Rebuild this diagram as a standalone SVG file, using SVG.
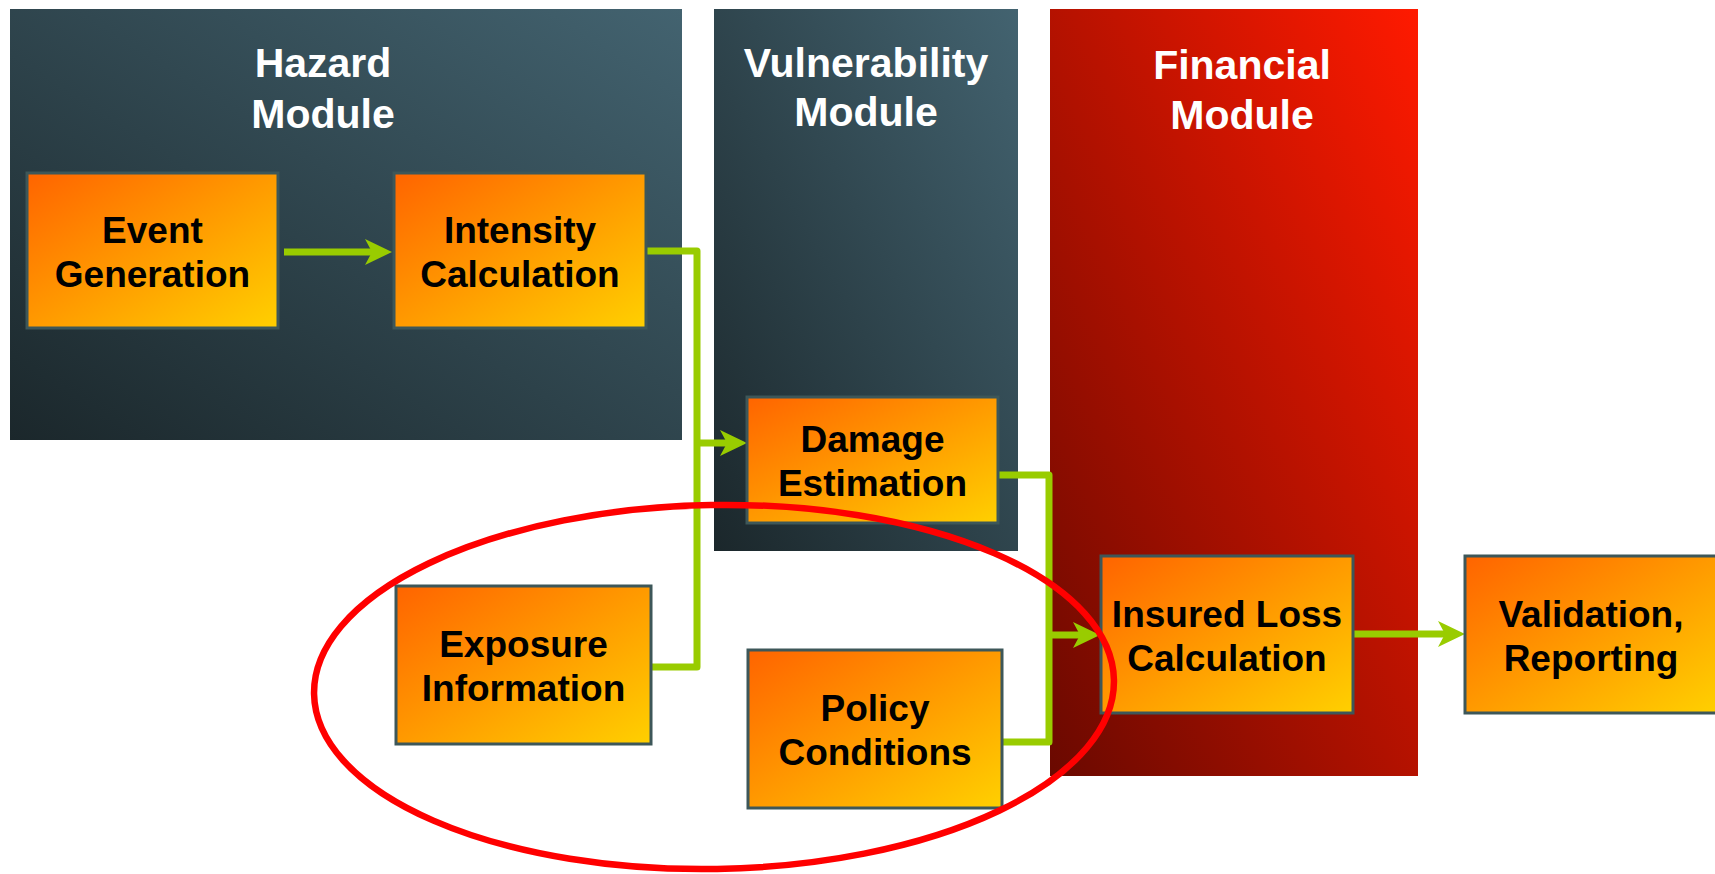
<svg xmlns="http://www.w3.org/2000/svg" width="1715" height="874" viewBox="0 0 1715 874">
  <style>
    .title { font-family: "Liberation Sans", Arial, sans-serif; font-weight: bold; font-size: 41px; fill: #ffffff; text-anchor: middle; }
    .label { font-family: "Liberation Sans", Arial, sans-serif; font-weight: bold; font-size: 37px; fill: #000000; text-anchor: middle; }
    .box { fill: url(#nodeFill); stroke: #3d5759; stroke-width: 3; }
    .wire { fill: none; stroke: #99cc00; stroke-width: 7; stroke-linejoin: round; stroke-linecap: round; }
    .arrow { fill: none; stroke: #99cc00; stroke-width: 7; marker-end: url(#head); }
  </style>
  <defs>
    <linearGradient id="slateFill" x1="0" y1="1" x2="1" y2="0">
      <stop offset="0" stop-color="#1b272b"/>
      <stop offset="1" stop-color="#436370"/>
    </linearGradient>
    <linearGradient id="redFill" x1="0" y1="1" x2="1" y2="0">
      <stop offset="0" stop-color="#6a0900"/>
      <stop offset="1" stop-color="#ff1a00"/>
    </linearGradient>
    <linearGradient id="nodeFill" x1="0" y1="0" x2="1" y2="1">
      <stop offset="0" stop-color="#ff6400"/>
      <stop offset="1" stop-color="#ffd000"/>
    </linearGradient>
    <marker id="head" markerUnits="userSpaceOnUse" markerWidth="30" markerHeight="30" refX="18" refY="13" orient="auto" overflow="visible">
      <path d="M0,0 L27,13 L0,26 L7,13 Z" fill="#99cc00"/>
    </marker>
  </defs>

  <!-- module panels -->
  <g id="hazard-module">
    <rect x="10" y="9" width="672" height="431" fill="url(#slateFill)"/>
    <text class="title" x="323" y="77">Hazard</text>
    <text class="title" x="323" y="128">Module</text>
  </g>
  <g id="vulnerability-module">
    <rect x="714" y="9" width="304" height="542" fill="url(#slateFill)"/>
    <text class="title" x="866" y="77">Vulnerability</text>
    <text class="title" x="866" y="126">Module</text>
  </g>
  <g id="financial-module">
    <rect x="1050" y="9" width="368" height="767" fill="url(#redFill)"/>
    <text class="title" x="1242" y="79">Financial</text>
    <text class="title" x="1242" y="129">Module</text>
  </g>

  <!-- connectors -->
  <g id="connectors">
    <path class="wire" d="M646,251 H697 V667 H651"/>
    <path class="wire" d="M998,475 H1049 V742 H1002"/>
    <path class="arrow" d="M284,252 H383"/>
    <path class="arrow" d="M697,443 H738"/>
    <path class="arrow" d="M1049,635 H1091"/>
    <path class="arrow" d="M1354,634 H1456"/>
  </g>

  <!-- process steps -->
  <g id="event-generation">
    <rect class="box" x="27" y="173" width="251" height="155"/>
    <text class="label" x="152.5" y="242.5">Event</text>
    <text class="label" x="152.5" y="286.5">Generation</text>
  </g>
  <g id="intensity-calculation">
    <rect class="box" x="394" y="173" width="252" height="155"/>
    <text class="label" x="520" y="242.5">Intensity</text>
    <text class="label" x="520" y="286.5">Calculation</text>
  </g>
  <g id="damage-estimation">
    <rect class="box" x="747" y="397" width="251" height="126"/>
    <text class="label" x="872.5" y="452">Damage</text>
    <text class="label" x="872.5" y="496">Estimation</text>
  </g>
  <g id="exposure-information">
    <rect class="box" x="396" y="586" width="255" height="158"/>
    <text class="label" x="523.5" y="657">Exposure</text>
    <text class="label" x="523.5" y="701">Information</text>
  </g>
  <g id="policy-conditions">
    <rect class="box" x="748" y="650" width="254" height="158"/>
    <text class="label" x="875" y="721">Policy</text>
    <text class="label" x="875" y="765">Conditions</text>
  </g>
  <g id="insured-loss-calculation">
    <rect class="box" x="1101" y="556" width="252" height="157"/>
    <text class="label" x="1227" y="627">Insured Loss</text>
    <text class="label" x="1227" y="671">Calculation</text>
  </g>
  <g id="validation-reporting">
    <rect class="box" x="1465" y="556" width="252" height="157"/>
    <text class="label" x="1591" y="627">Validation,</text>
    <text class="label" x="1591" y="671">Reporting</text>
  </g>

  <!-- highlight ring round the exposure and policy inputs -->
  <g id="highlight">
    <ellipse cx="714" cy="687" rx="400" ry="182" transform="rotate(-1 714 687)" fill="none" stroke="#ff0000" stroke-width="6.5"/>
  </g>
</svg>
